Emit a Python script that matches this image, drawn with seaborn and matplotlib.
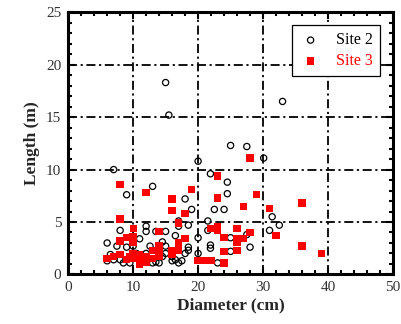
import numpy as np
import pandas as pd
import matplotlib
matplotlib.use("Agg")
import matplotlib.pyplot as plt
from matplotlib.ticker import MultipleLocator
import seaborn as sns

# Site 2 (open circles)
site2_d = [15.0, 15.5, 33.0, 25.0, 27.5, 30.1, 20.0, 7.0, 21.9, 24.5, 24.5, 13.0, 9.0, 18.0,
           19.0, 22.5, 24.0, 31.4, 21.5, 17.0, 32.5, 31.0, 8.0, 12.0, 12.0, 13.5, 15.0, 17.0,
           18.5, 21.5, 20.0, 16.5, 11.0, 6.0, 25.0, 27.5, 21.9, 21.9, 28.0, 25.0, 20.0, 23.0,
           7.5, 9.0, 14.5, 15.0, 12.6, 18.5, 18.5, 18.0, 16.0, 16.5, 17.0, 17.5, 6.5, 6.0,
           8.0, 8.5, 9.5, 7.0, 10.0, 10.5, 13.0, 13.5, 14.0, 14.5, 15.0, 16.0, 12.0, 12.5]
site2_l = [18.3, 15.2, 16.5, 12.3, 12.2, 11.1, 10.8, 10.0, 9.6, 8.8, 7.7, 8.4, 7.6, 7.2,
           6.2, 6.2, 6.2, 5.5, 5.1, 5.1, 4.7, 4.2, 4.2, 4.6, 4.1, 4.1, 4.1, 4.6,
           4.7, 4.2, 3.5, 3.7, 3.4, 3.0, 3.5, 3.8, 2.8, 2.5, 2.6, 2.2, 2.0, 1.1,
           2.7, 2.6, 3.1, 2.7, 2.7, 2.6, 2.3, 2.0, 1.7, 1.4, 1.1, 1.3, 1.9, 1.3,
           1.4, 1.1, 1.1, 1.4, 2.7, 2.0, 1.1, 1.2, 1.1, 1.7, 2.0, 1.3, 2.0, 1.5]

# Site 3 (red squares)
site3_d = [28.0, 23.0, 8.0, 12.0, 19.0, 16.0, 16.0, 18.0, 23.0, 29.0, 27.0, 31.0, 36.0,
           8.0, 17.0, 10.1, 22.0, 23.0, 23.0, 26.0, 28.0, 32.0, 24.0, 26.0, 26.0, 27.0,
           14.0, 18.0, 17.0, 8.0, 9.0, 10.0, 10.0, 14.0, 14.0, 13.0, 16.0, 17.0, 24.0,
           26.0, 36.0, 39.0, 20.0, 21.0, 22.0, 24.0, 6.0, 7.0, 8.0, 9.0, 10.0, 10.0,
           11.0, 11.0, 11.0, 12.0, 12.0, 13.0, 14.0, 10.5, 9.5, 16.0]
site3_l = [11.1, 9.4, 8.6, 7.8, 8.1, 7.2, 6.1, 5.8, 7.3, 7.6, 6.5, 6.3, 6.8,
           5.3, 4.9, 4.4, 4.4, 4.6, 4.2, 4.4, 4.0, 3.7, 3.5, 3.4, 3.1, 3.4,
           4.1, 3.4, 3.0, 3.2, 3.5, 3.6, 3.1, 2.7, 2.2, 2.3, 2.3, 2.3, 2.2,
           2.3, 2.7, 2.0, 1.3, 1.3, 1.3, 1.1, 1.5, 1.7, 1.9, 1.4, 2.0, 1.5,
           1.9, 1.2, 1.0, 1.7, 1.2, 1.5, 1.7, 1.5, 1.7, 1.9]

df2 = pd.DataFrame({"Diameter": site2_d, "Length": site2_l})
df3 = pd.DataFrame({"Diameter": site3_d, "Length": site3_l})

sns.set_style("ticks")
plt.rcParams["font.family"] = ["Liberation Serif", "DejaVu Serif"]

fig, ax = plt.subplots(figsize=(4.01, 3.24), dpi=100)
fig.subplots_adjust(left=0.17, right=0.98, bottom=0.153, top=0.962)

sns.scatterplot(data=df2, x="Diameter", y="Length", ax=ax, marker="o", s=20,
                facecolor="none", edgecolor="black", linewidth=0.9, label="Site 2", zorder=3)
sns.scatterplot(data=df3, x="Diameter", y="Length", ax=ax, marker="s", s=28,
                color="red", edgecolor="none", linewidth=0, label="Site 3", zorder=4)

ax.set_xlim(0, 50)
ax.set_ylim(0, 25)
ax.xaxis.set_major_locator(MultipleLocator(10))
ax.xaxis.set_minor_locator(MultipleLocator(2))
ax.yaxis.set_major_locator(MultipleLocator(5))
ax.yaxis.set_minor_locator(MultipleLocator(1))
ax.tick_params(which="both", direction="in", top=True, right=True, width=1.5,
               labelsize=11, colors="black", labelcolor="#333333", pad=5)
ax.tick_params(which="major", length=5)
ax.tick_params(which="minor", length=3)
ax.grid(True, which="major", color="black", linestyle=(0, (5, 2, 1.2, 2)), linewidth=1.3)
for sp in ax.spines.values():
    sp.set_linewidth(2.2)
    sp.set_color("black")

ax.set_xlabel("Diameter (cm)", fontsize=12.5, fontweight="bold", labelpad=2)
ax.set_ylabel("Length (m)", fontsize=12.5, fontweight="bold", labelpad=4)

leg = ax.legend(loc="upper right", fontsize=11.5, frameon=True, fancybox=False,
                edgecolor="black", framealpha=1, handletextpad=0.9,
                borderaxespad=0.8, handlelength=1.4, borderpad=0.45, labelspacing=0.3)
leg.get_frame().set_linewidth(0.9)
for t, c in zip(leg.get_texts(), ["black", "red"]):
    t.set_color(c)

fig.savefig("out.png", dpi=100)
